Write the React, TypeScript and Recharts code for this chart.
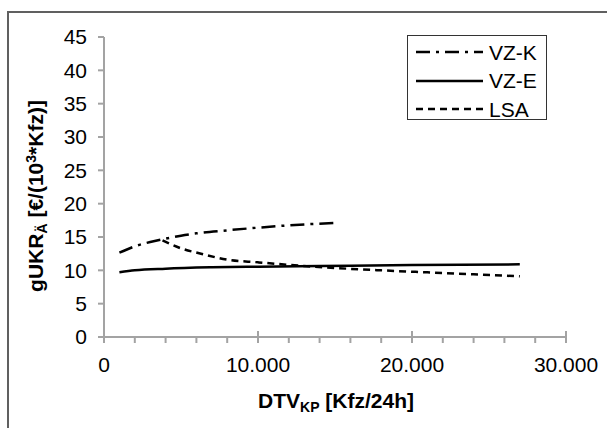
import React from 'react';
import { LineChart, Line, XAxis, YAxis } from 'recharts';

// ---- Data ----
const VZK_X = [1000, 2000, 3000, 4000, 5000, 6000, 8000, 10000, 12000, 15000];
const VZK_Y = [12.65, 13.6, 14.25, 14.75, 15.2, 15.55, 16.0, 16.4, 16.75, 17.1];

const VZE_X = [1000, 2000, 4000, 7000, 10000, 14000, 20000, 27000];
const VZE_Y = [9.7, 10.0, 10.25, 10.45, 10.55, 10.65, 10.8, 10.9];

const LSA_X = [3800, 5000, 6300, 8000, 10000, 12700, 15000, 18000, 21000, 24000, 27000];
const LSA_Y = [14.5, 13.3, 12.5, 11.6, 11.2, 10.7, 10.35, 10.0, 9.7, 9.4, 9.1];

const SERIES_NAMES = ['VZ-K', 'VZ-E', 'LSA'];
const SERIES_DASH = ['14 6 3 6', '', '7 5'];

const Y_TICKS = [0, 5, 10, 15, 20, 25, 30, 35, 40, 45];
const X_TICKS = [0, 2000, 4000, 6000, 8000, 10000, 12000, 14000, 16000, 18000, 20000, 22000, 24000, 26000, 28000, 30000];
const X_MAJOR_STEP = 10000;

const toRows = (xs: number[], ys: number[]) => xs.map((x, i) => ({ x, y: ys[i] }));
const SERIES_DATA = [toRows(VZK_X, VZK_Y), toRows(VZE_X, VZE_Y), toRows(LSA_X, LSA_Y)];

const FONT = '"Liberation Sans", Arial, Helvetica, sans-serif';
const AXIS_GREY = '#a3a3a3';
const FS = 21;

const fmtThousands = (v: number) => String(v).replace(/\B(?=(\d{3})+(?!\d))/g, '.');

function XTick(props: any) {
  const { x, y, payload } = props;
  const v = payload.value as number;
  const major = v % X_MAJOR_STEP === 0;
  return (
    <g>
      <line x1={x} x2={x} y1={major ? y - 6 : y} y2={y + 6} stroke={AXIS_GREY} strokeWidth={2} />
      {major && (
        <text x={x} y={y + 35} textAnchor="middle" fontSize={FS} fill="#000" fontFamily={FONT}>
          {fmtThousands(v)}
        </text>
      )}
    </g>
  );
}

function XLabel(props: any) {
  const vb = props.viewBox || { x: 104, y: 337, width: 462 };
  const cx = vb.x + vb.width / 2 + 1;
  return (
    <text x={cx} y={vb.y + 71} textAnchor="middle" fontSize={FS} fontWeight="bold" fill="#000" fontFamily={FONT}>
      DTV
      <tspan fontSize={14} dy={4}>KP</tspan>
      <tspan dy={-4}> [Kfz/24h]</tspan>
    </text>
  );
}

function YLabel() {
  const x = 43;
  const y = 196;
  return (
    <text
      x={x}
      y={y}
      transform={`rotate(-90, ${x}, ${y})`}
      textAnchor="middle"
      fontSize={FS}
      fontWeight="bold"
      fill="#000"
      fontFamily={FONT}
    >
      gUKR
      <tspan fontSize={14} dy={4}>Ä</tspan>
      <tspan dy={-4}> [€/(10</tspan>
      <tspan fontSize={14} dy={-7}>3</tspan>
      <tspan dy={7}>*Kfz)]</tspan>
    </text>
  );
}

function LegendBox() {
  return (
    <div
      style={{
        position: 'absolute',
        left: 407,
        top: 35,
        border: '1px solid #333',
        background: '#fff',
        boxSizing: 'border-box',
        width: 140,
        height: 85,
        paddingTop: 2,
        fontFamily: FONT,
        fontSize: FS,
        color: '#000',
      }}
    >
      {SERIES_NAMES.map((name, i) => (
        <div key={name} style={{ display: 'flex', alignItems: 'center', height: 28.5 }}>
          <svg width={67} height={4} style={{ marginLeft: 8, marginRight: 6 }}>
            <line x1={0} x2={67} y1={2} y2={2} stroke="#000" strokeWidth={2.5} strokeDasharray={SERIES_DASH[i] || undefined} />
          </svg>
          <span style={{ lineHeight: '21px' }}>{name}</span>
        </div>
      ))}
    </div>
  );
}

export default function App() {
  return (
    <div style={{ position: 'absolute', left: 0, top: 0, width: 607, height: 428, background: '#fff', overflow: 'hidden' }}>
      <div
        style={{
          position: 'absolute',
          left: 7,
          top: 11,
          width: 620,
          height: 440,
          borderTop: '2px solid #606060',
          borderLeft: '2px solid #606060',
        }}
      />
      <div style={{ position: 'absolute', left: 0, top: 0 }}>
        <LineChart width={607} height={428} margin={{ top: 37, right: 41, bottom: 61, left: 20 }}>
          <XAxis
            type="number"
            dataKey="x"
            domain={[0, 30000]}
            ticks={X_TICKS}
            interval={0}
            tick={<XTick />}
            tickLine={false}
            tickSize={0}
            tickMargin={0}
            height={30}
            axisLine={{ stroke: AXIS_GREY, strokeWidth: 2 }}
            allowDataOverflow
            label={<XLabel />}
          />
          <YAxis
            type="number"
            domain={[0, 45]}
            ticks={Y_TICKS}
            interval={0}
            width={84}
            tick={{ fontSize: FS, fill: '#000', fontFamily: FONT }}
            tickSize={6}
            tickMargin={11}
            tickLine={{ stroke: AXIS_GREY, strokeWidth: 2 }}
            axisLine={{ stroke: AXIS_GREY, strokeWidth: 2 }}
            label={<YLabel />}
          />
          {SERIES_NAMES.map((name, i) => (
            <Line
              key={name}
              name={name}
              data={SERIES_DATA[i]}
              dataKey="y"
              type="monotone"
              stroke="#000"
              strokeWidth={2.5}
              strokeDasharray={SERIES_DASH[i] || undefined}
              dot={false}
              activeDot={false}
              isAnimationActive={false}
            />
          ))}
        </LineChart>
      </div>
      <LegendBox />
    </div>
  );
}
